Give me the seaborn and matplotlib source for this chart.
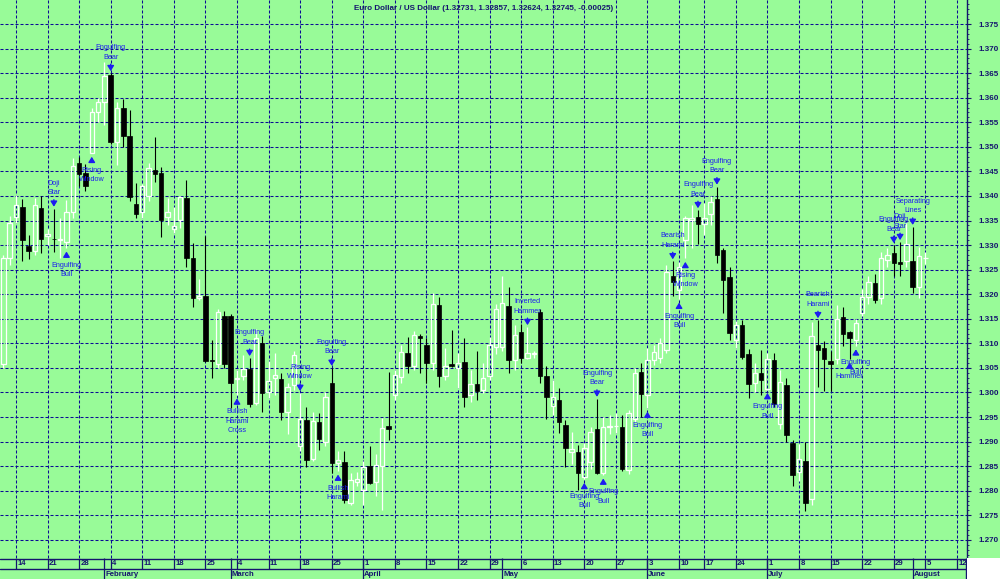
import numpy as np
import pandas as pd
import matplotlib
matplotlib.use('Agg')
import matplotlib.pyplot as plt
from matplotlib.patches import Rectangle
from matplotlib.ticker import MultipleLocator, FormatStrFormatter
import seaborn as sns

# daily bars shown on the chart (no bar for Friday 14 June)
dates = pd.bdate_range('2013-01-10', '2013-08-05').drop(pd.Timestamp('2013-06-14'))

open_ = [
    1.3058, 1.3274, 1.3358, 1.3377, 1.3298, 1.3287, 1.3375, 1.3318, 1.3313, 1.3311, 1.3307, 1.3368, 1.3467, 1.3446, 1.3487, 1.3572,
    1.3591, 1.3646, 1.3510, 1.3580, 1.3523, 1.3384, 1.3368, 1.3400, 1.3453, 1.3446, 1.3358, 1.3333, 1.3351, 1.3395, 1.3273, 1.3192, 1.3196, 1.3066, 1.3058, 1.3156,
    1.3156, 1.3028, 1.3034, 1.3048, 1.2979, 1.3101, 1.3001, 1.3030, 1.3028, 1.2960, 1.3015, 1.2891, 1.2944, 1.2865, 1.2939, 1.2899, 1.3019, 1.2857, 1.2859, 1.2775, 1.2818,
    1.2802, 1.2850, 1.2818, 1.2850, 1.2932, 1.2995, 1.3032, 1.3080, 1.3054, 1.3115, 1.3097, 1.3060, 1.3178, 1.3034, 1.3058, 1.3050, 1.3062, 1.2995, 1.3018, 1.3006, 1.3034, 1.3093,
    1.3093, 1.3176, 1.3066, 1.3123, 1.3070, 1.3078, 1.3163, 1.3034, 1.2973, 1.2985, 1.2934, 1.2879, 1.2879, 1.2828, 1.2858, 1.2926, 1.2836, 1.2929, 1.2931, 1.2930, 1.2842, 1.2945, 1.3041,
    1.2995, 1.3067, 1.3070, 1.3087, 1.3237, 1.3209, 1.3310, 1.3352, 1.3357, 1.3343, 1.3363, 1.3393, 1.3290, 1.3235, 1.3107, 1.3137, 1.3078, 1.3019, 1.3040,
    1.3008, 1.3066, 1.2935, 1.3015, 1.2897, 1.2838, 1.2861, 1.2783, 1.3097, 1.3091, 1.3065, 1.3068, 1.3154, 1.3124, 1.3106, 1.3161, 1.3194, 1.3222, 1.3192, 1.3270, 1.3283, 1.3265, 1.3268,
    1.3268, 1.3215, 1.32731,
]
high = [
    1.3280, 1.3360, 1.3403, 1.3393, 1.3321, 1.3395, 1.3399, 1.3332, 1.3374, 1.3355, 1.3392, 1.3478, 1.3480, 1.3465, 1.3580, 1.3600,
    1.3673, 1.3650, 1.3591, 1.3597, 1.3575, 1.3427, 1.3425, 1.3467, 1.3521, 1.3460, 1.3395, 1.3378, 1.3400, 1.3432, 1.3305, 1.3231, 1.3318, 1.3107, 1.3170, 1.3165,
    1.3160, 1.3045, 1.3077, 1.3070, 1.3130, 1.3115, 1.3065, 1.3080, 1.3040, 1.3020, 1.3085, 1.2999, 1.2970, 1.2960, 1.2958, 1.3000, 1.3050, 1.2880, 1.2880, 1.2837, 1.2839,
    1.2860, 1.2890, 1.2875, 1.2948, 1.3041, 1.3046, 1.3097, 1.3112, 1.3126, 1.3120, 1.3110, 1.3202, 1.3195, 1.3090, 1.3127, 1.3080, 1.3110, 1.3045, 1.3085, 1.3060, 1.3113, 1.3180,
    1.3237, 1.3214, 1.3137, 1.3140, 1.3133, 1.3085, 1.3170, 1.3053, 1.3025, 1.3010, 1.2944, 1.2920, 1.2893, 1.2897, 1.2930, 1.2987, 1.2950, 1.2955, 1.2959, 1.2955, 1.2965, 1.3050, 1.3060,
    1.3090, 1.3097, 1.3110, 1.3260, 1.3267, 1.3265, 1.3360, 1.3382, 1.3371, 1.3385, 1.3400, 1.3419, 1.3294, 1.3256, 1.3145, 1.3147, 1.3088, 1.3060, 1.3087,
    1.3080, 1.3080, 1.3045, 1.3030, 1.2903, 1.2895, 1.2900, 1.3144, 1.3147, 1.3104, 1.3085, 1.3178, 1.3175, 1.3126, 1.3150, 1.3210, 1.3237, 1.3241, 1.3285, 1.3295, 1.3300, 1.3306, 1.3345,
    1.3337, 1.3296, 1.32857,
]
low = [
    1.3050, 1.3260, 1.3345, 1.3268, 1.3271, 1.3280, 1.3283, 1.3300, 1.3285, 1.3273, 1.3294, 1.3355, 1.3420, 1.3410, 1.3487, 1.3551,
    1.3544, 1.3505, 1.3463, 1.3500, 1.3390, 1.3355, 1.3355, 1.3390, 1.3429, 1.3317, 1.3340, 1.3324, 1.3335, 1.3255, 1.3175, 1.3188, 1.3063, 1.3030, 1.3050, 1.3050,
    1.2968, 1.2995, 1.3025, 1.2970, 1.2975, 1.2960, 1.2988, 1.2995, 1.2944, 1.2915, 1.3005, 1.2880, 1.2849, 1.2860, 1.2883, 1.2890, 1.2836, 1.2840, 1.2775, 1.2770, 1.2810,
    1.2770, 1.2813, 1.2790, 1.2761, 1.2903, 1.2985, 1.3020, 1.3040, 1.3045, 1.3040, 1.3020, 1.3045, 1.3012, 1.3025, 1.3052, 1.3010, 1.2970, 1.2980, 1.2985, 1.2998, 1.3025, 1.3078,
    1.3085, 1.3040, 1.3046, 1.3060, 1.3068, 1.3070, 1.3020, 1.2945, 1.2955, 1.2918, 1.2848, 1.2855, 1.2802, 1.2823, 1.2845, 1.2834, 1.2832, 1.2915, 1.2918, 1.2840, 1.2835, 1.2940, 1.2950,
    1.2968, 1.3055, 1.3060, 1.3080, 1.3197, 1.3190, 1.3273, 1.3294, 1.3302, 1.3320, 1.3340, 1.3264, 1.3162, 1.3107, 1.3090, 1.3068, 1.2989, 1.3000, 1.2995,
    1.3006, 1.2970, 1.2925, 1.2900, 1.2810, 1.2820, 1.2758, 1.2771, 1.3012, 1.3002, 1.3002, 1.3058, 1.3095, 1.3068, 1.3095, 1.3155, 1.3180, 1.3182, 1.3180, 1.3255, 1.3237, 1.3238, 1.3255,
    1.3202, 1.3193, 1.32624,
]
close = [
    1.3274, 1.3345, 1.3382, 1.3310, 1.3287, 1.3382, 1.3312, 1.3322, 1.3312, 1.3313, 1.3367, 1.3462, 1.3445, 1.3421, 1.3572, 1.3591,
    1.3644, 1.3510, 1.3580, 1.3523, 1.3397, 1.3363, 1.3420, 1.3456, 1.3445, 1.3351, 1.3368, 1.3339, 1.3398, 1.3273, 1.3192, 1.3196, 1.3065, 1.3064, 1.3163, 1.3058,
    1.3020, 1.3030, 1.3048, 1.2977, 1.3111, 1.2999, 1.3023, 1.3035, 1.2960, 1.3012, 1.3076, 1.2946, 1.2863, 1.2941, 1.2905, 1.2991, 1.2857, 1.2862, 1.2781, 1.2822, 1.2823,
    1.2848, 1.2816, 1.2852, 1.2928, 1.2925, 1.3036, 1.3083, 1.3054, 1.3117, 1.3110, 1.3060, 1.3180, 1.3034, 1.3054, 1.3054, 1.3060, 1.2991, 1.3017, 1.3002, 1.3030, 1.3097, 1.3170,
    1.3182, 1.3066, 1.3117, 1.3070, 1.3080, 1.3080, 1.3034, 1.2990, 1.2991, 1.2940, 1.2887, 1.2885, 1.2836, 1.2887, 1.2920, 1.2836, 1.2930, 1.2931, 1.2932, 1.2844, 1.2958, 1.3040, 1.2997,
    1.3067, 1.3083, 1.3100, 1.3246, 1.3224, 1.3256, 1.3355, 1.3356, 1.3342, 1.3356, 1.3388, 1.3280, 1.3229, 1.3122, 1.3137, 1.3072, 1.3017, 1.3040, 1.3025,
    1.3068, 1.2977, 1.3022, 1.2914, 1.2832, 1.2864, 1.2775, 1.3114, 1.3087, 1.3068, 1.3058, 1.3150, 1.3119, 1.3110, 1.3141, 1.3195, 1.3225, 1.3188, 1.3274, 1.3280, 1.3264, 1.3262, 1.3302,
    1.3215, 1.3278, 1.32745,
]

# candlestick pattern markers
pattern_dates = ['2013-01-22', '2013-01-24', '2013-01-30', '2013-02-04', '2013-03-04', '2013-03-06',
                 '2013-03-18', '2013-03-25', '2013-03-26', '2013-05-07', '2013-05-20', '2013-05-22',
                 '2013-05-23', '2013-06-03', '2013-06-07', '2013-06-10', '2013-06-11', '2013-06-13',
                 '2013-06-19', '2013-07-01', '2013-07-11', '2013-07-18', '2013-07-19', '2013-07-29',
                 '2013-07-30', '2013-08-01']
pattern_text = ['Doji\nStar', 'Engulfing\nBull', 'Rising\nWindow', 'Engulfing\nBear', 'Bullish\nHarami\nCross',
                'Engulfing\nBear', 'Rising\nWindow', 'Engulfing\nBear', 'Bullish\nHarami', 'Inverted\nHammer',
                'Engulfing\nBull', 'Engulfing\nBear', 'Engulfing\nBull', 'Engulfing\nBull', 'Bearish\nHarami',
                'Engulfing\nBull', 'Rising\nWindow', 'Engulfing\nBear', 'Engulfing\nBear', 'Engulfing\nBull',
                'Bearish\nHarami', 'Hammer', 'Engulfing\nBull', 'Engulfing\nBear', 'Doji\nStar', 'Separating\nLines']
pattern_side = ['above', 'below', 'below', 'above', 'below', 'above', 'above', 'above', 'below', 'above',
                'below', 'above', 'below', 'below', 'above', 'below', 'below', 'above', 'above', 'below',
                'above', 'below', 'below', 'above', 'above', 'above']

title = 'Euro Dollar / US Dollar (1.32731, 1.32857, 1.32624, 1.32745, -0.00025)'

sns.set_theme(style='white')
plt.rcParams['font.family'] = ['Liberation Sans', 'DejaVu Sans']

GREEN = '#98fb98'
NAVY = '#14146e'
GRID = '#0a0a96'
BLUE = '#1c1cf0'
PX = 0.72  # points per pixel at dpi 100

df = pd.DataFrame({'open': open_, 'high': high, 'low': low, 'close': close}, index=dates)
x = np.arange(len(df))
up = (df['close'] >= df['open']).values
top = df[['open', 'close']].max(axis=1).values
bot = df[['open', 'close']].min(axis=1).values

fig = plt.figure(figsize=(10, 5.79), dpi=100, facecolor=GREEN)
ax = fig.add_axes([0, 21 / 579, 0.967, 558 / 579], facecolor=GREEN)
strip = fig.add_axes([0, 0, 0.967, 21 / 579], facecolor=GREEN)
fig.add_artist(Rectangle((0.967, 0), 0.033, 21 / 579, transform=fig.transFigure,
                         facecolor='white', edgecolor='none', zorder=5))

xlim = (-0.53, 152.6)
ax.set_xlim(xlim)
ax.set_ylim(1.2663, 1.3799)

# wicks
ax.vlines(x[~up], df['low'].values[~up], df['high'].values[~up], color='black', lw=0.8, zorder=3)
ax.vlines(x[up], top[up], df['high'].values[up], color='white', lw=0.9, zorder=3)
ax.vlines(x[up], df['low'].values[up], bot[up], color='white', lw=0.9, zorder=3)
# bodies
ax.bar(x[up], (top - bot)[up], bottom=bot[up], width=0.7, facecolor='none',
       edgecolor='white', lw=0.9, zorder=4)
ax.bar(x[~up], (top - bot)[~up], bottom=bot[~up], width=0.7, facecolor='black',
       edgecolor='black', lw=0.5, zorder=4)

# weekly grid on Mondays, plus the Monday after the last bar
mondays = [i for i, d in enumerate(dates) if d.weekday() == 0]
mondays.append(mondays[-1] + 5)
monday_days = [d.day for d in dates if d.weekday() == 0]
monday_days.append((dates[-1] + pd.Timedelta(days=7)).day)
month_starts = [i for i in range(1, len(dates)) if dates[i].month != dates[i - 1].month]

ax.set_xticks(mondays)
ax.tick_params(axis='x', bottom=False, labelbottom=False)
ax.yaxis.tick_right()
ax.yaxis.set_major_locator(MultipleLocator(0.005))
ax.yaxis.set_minor_locator(MultipleLocator(0.001))
ax.yaxis.set_major_formatter(FormatStrFormatter('%.3f'))
ax.tick_params(axis='y', which='major', direction='out', length=4 * PX, width=0.8,
               colors=NAVY, labelsize=5.8, pad=7 * PX)
ax.tick_params(axis='y', which='minor', direction='out', length=2.5 * PX, width=0.6, colors=NAVY)
plt.setp(ax.get_yticklabels(), fontweight='bold')
ax.grid(True, which='major', color=GRID, linestyle=(0, (2.9, 1.9)), lw=0.75)
ax.set_axisbelow(True)
for s in ['top', 'left', 'bottom']:
    ax.spines[s].set_visible(False)
ax.spines['right'].set_color(NAVY)
ax.spines['right'].set_linewidth(1)

ax.text(0.5, 1 - 8 / 558, title, transform=ax.transAxes, ha='center', va='center',
        fontsize=5.8, fontweight='bold', color=NAVY)

# pattern labels with arrows
for d, txt, side in zip(pattern_dates, pattern_text, pattern_side):
    i = dates.get_loc(pd.Timestamp(d))
    lines = txt.split('\n')
    if side == 'above':
        y0 = df['high'].iloc[i]
        ax.annotate('', xy=(i, y0), xytext=(0, 9 * PX), textcoords='offset points',
                    arrowprops=dict(arrowstyle='-|>,head_length=0.45,head_width=0.28', color=BLUE,
                                    lw=1, shrinkA=0, shrinkB=2 * PX, mutation_scale=7), zorder=6)
        for k, line in enumerate(reversed(lines)):
            ax.annotate(line, xy=(i, y0), xytext=(0, (16 + 9.5 * k) * PX), textcoords='offset points',
                        ha='center', va='center', fontsize=5.2, color=BLUE, zorder=6)
    else:
        y0 = df['low'].iloc[i]
        ax.annotate('', xy=(i, y0), xytext=(0, -9 * PX), textcoords='offset points',
                    arrowprops=dict(arrowstyle='-|>,head_length=0.45,head_width=0.28', color=BLUE,
                                    lw=1, shrinkA=0, shrinkB=3.5 * PX, mutation_scale=7), zorder=6)
        for k, line in enumerate(lines):
            ax.annotate(line, xy=(i, y0), xytext=(0, -(17 + 9.5 * k) * PX), textcoords='offset points',
                        ha='center', va='center', fontsize=5.2, color=BLUE, zorder=6)

# date strip under the chart
strip.set_xlim(xlim)
strip.set_ylim(0, 21)
strip.set_xticks([])
strip.set_yticks([])
for sp in strip.spines.values():
    sp.set_visible(False)
strip.axhline(20.5, color=NAVY, lw=1)
strip.axhline(10, color=NAVY, lw=1)
strip.vlines(mondays, 10, 21, color=NAVY, lw=0.9)
strip.vlines(month_starts, 0, 21, color=NAVY, lw=0.9)
strip.vlines([xlim[1] - 0.08], 0, 21, color=NAVY, lw=1)
for m, day in zip(mondays, monday_days):
    strip.text(m + 0.2, 15.3, str(day), ha='left', va='center', fontsize=5.6,
               fontweight='bold', color=NAVY, clip_on=True)
for ms in month_starts:
    strip.text(ms + 0.15, 4.8, dates[ms].strftime('%B'), ha='left', va='center', fontsize=5.6,
               fontweight='bold', color=NAVY, clip_on=True)

fig.savefig('out.png', dpi=100, facecolor=GREEN)
